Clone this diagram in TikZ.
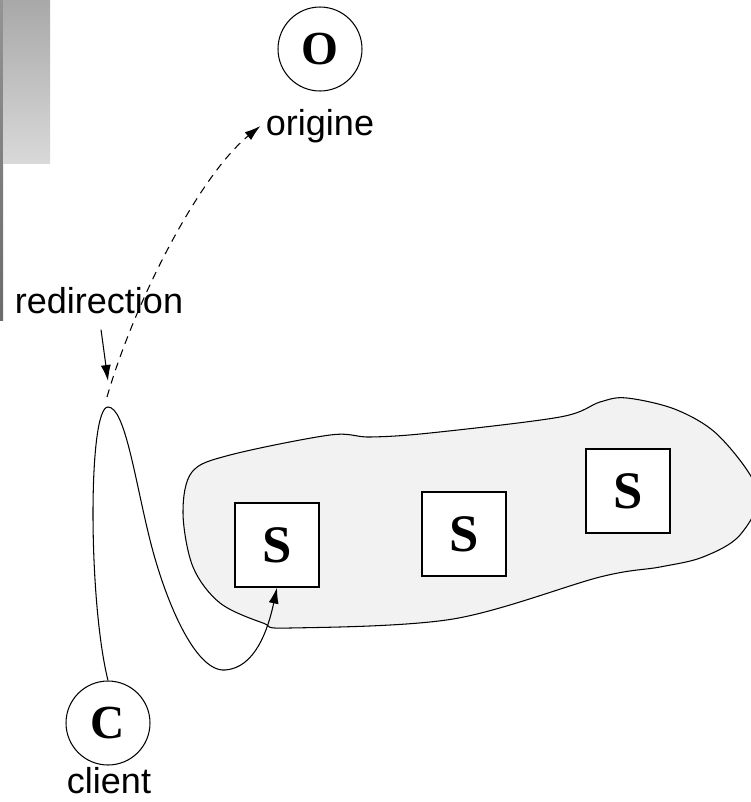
\documentclass[tikz,border=0pt]{standalone}
\usepackage{fontspec}
\setmainfont{Liberation Sans}
\newfontfamily\letterfont{Liberation Serif}
\usetikzlibrary{arrows.meta}

\tikzset{
  host/.style={circle,draw,fill=white,minimum size=1.68cm,inner sep=0pt,
    font=\letterfont\bfseries\fontsize{27}{30}\selectfont},
  server/.style={rectangle,draw,fill=white,minimum size=1.68cm,inner sep=0pt,
    font=\letterfont\bfseries\fontsize{30}{34}\selectfont},
  lbl/.style={inner sep=0pt,font=\fontsize{20.5}{24}\selectfont},
  arr/.style={-{Latex[length=3.2mm,width=2mm]}},
}

\begin{document}
\begin{tikzpicture}[x=0.02cm,y=-0.02cm,line width=0.6pt]
    \useasboundingbox (0,0) rectangle (751,802);

    % grey bars, top left
    \shade[top color=black!42,bottom color=black!58] (0,0) rectangle (3,320);
    \shade[top color=black!34,bottom color=black!15] (3,0) rectangle (50,163);

    % zone of the servers
    \draw[fill=black!5] plot[smooth cycle,tension=0.55] coordinates {
        (192,472) (230,455) (330,435) (370,437) (430,433) (560,417)
        (600,402) (627,398) (677,410) (720,437) (758,492) (740,535)
        (703,557) (660,567) (600,577) (453,619) (290,628) (263,623)
        (220,603) (193,567) (183,513)};

    \node[host] (O) at (320,49) {O};
    \node[host] (C) at (108,723) {C};
    \node[lbl] (lblO) at (320,126) {origine};
    \node[lbl] (lblC) at (109,781) {client};
    \node[lbl] (lblR) at (99,301) {redirection};

    \node[server] (S1) at (277,545) {S};
    \node[server] (S2) at (464,534) {S};
    \node[server] (S3) at (628,491) {S};

    \coordinate (top) at (108,407);
    \coordinate (redir) at (107,397);
    \coordinate (rtip) at (108,381);

    % path of the request
    \draw[arr] (C.north) .. controls (88,600) and (88,407) .. (top)
        .. controls (125,407) and (135,480) .. (150,540)
        .. controls (165,600) and (195,672) .. (225,670)
        .. controls (255,668) and (268,630) .. (S1.south);
    \draw[arr,dash pattern=on 4.5pt off 3.5pt] (redir) .. controls (135,300) and (200,175) .. ([xshift=-0.1cm]lblO.west);
    \draw[arr,shorten <=0.3cm] (lblR.south) -- (rtip);
\end{tikzpicture}
\end{document}
